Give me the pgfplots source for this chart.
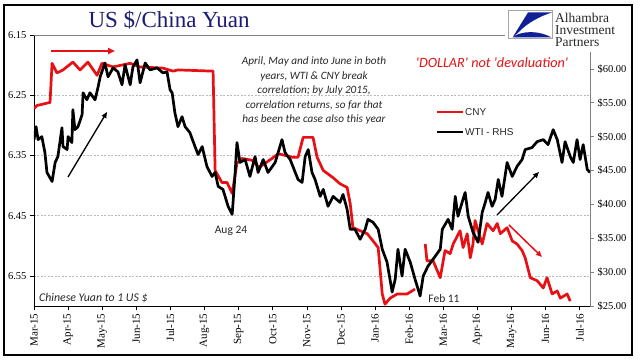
\documentclass[border=0pt]{standalone}
\usepackage{pgfplots}
\pgfplotsset{compat=1.18}
\usepackage{fontspec}
\setmainfont{Liberation Serif}
\newfontfamily\calibri{Carlito}
\newfontfamily\arial{Liberation Sans}
\usetikzlibrary{arrows.meta}
\definecolor{cnyred}{RGB}{232,16,20}
\definecolor{titleblue}{RGB}{28,28,120}
\definecolor{logoblue}{RGB}{16,32,150}
\definecolor{txtgray}{RGB}{40,40,40}

\pgfplotstableread{
x y
0.00 6.272
0.09 6.267
0.47 6.262
0.53 6.197
0.67 6.213
0.85 6.208
1.14 6.195
1.35 6.208
1.58 6.195
1.85 6.217
1.99 6.197
2.32 6.203
2.82 6.197
3.11 6.203
3.78 6.205
4.08 6.210
4.22 6.208
5.25 6.210
5.31 6.375
5.51 6.395
5.66 6.395
5.81 6.413
5.95 6.363
6.10 6.355
6.39 6.358
6.60 6.370
6.77 6.363
6.98 6.355
7.16 6.347
7.36 6.350
7.57 6.353
7.74 6.353
7.89 6.320
8.18 6.320
8.30 6.353
8.48 6.375
8.77 6.387
8.97 6.397
9.18 6.403
9.27 6.430
9.35 6.470
9.77 6.480
9.94 6.492
10.09 6.503
10.21 6.580
10.29 6.597
10.44 6.587
10.65 6.580
10.94 6.580
11.17 6.572
}\cnyA

\pgfplotstableread{
x y
11.47 6.497
11.52 6.525
11.70 6.525
11.91 6.553
12.05 6.508
12.20 6.513
12.29 6.497
12.49 6.475
12.58 6.503
12.70 6.480
12.79 6.520
12.87 6.497
12.93 6.458
13.02 6.475
13.14 6.497
13.28 6.463
13.46 6.475
13.58 6.463
13.67 6.480
13.87 6.470
14.02 6.492
14.16 6.497
14.31 6.508
14.40 6.520
14.55 6.553
14.75 6.558
14.93 6.570
15.04 6.553
15.19 6.580
15.34 6.575
15.43 6.587
15.63 6.580
15.72 6.592
}\cnyB

\pgfplotstableread{
x y
0.00 49.56
0.06 51.47
0.12 49.56
0.23 50.00
0.32 47.65
0.38 44.71
0.53 43.38
0.62 46.18
0.70 47.06
0.82 51.32
0.85 48.53
0.97 48.09
1.00 50.00
1.11 49.12
1.14 53.97
1.20 51.03
1.29 51.47
1.41 53.24
1.44 56.47
1.55 55.44
1.64 56.47
1.79 55.44
1.88 57.35
1.94 58.82
2.08 60.88
2.17 58.82
2.32 60.15
2.46 59.56
2.58 57.65
2.67 60.59
2.82 57.65
2.90 60.29
3.02 61.32
3.11 57.94
3.26 60.88
3.40 59.85
3.61 60.15
3.78 59.41
3.90 59.56
3.99 56.91
4.05 56.47
4.13 53.53
4.22 51.47
4.34 52.94
4.43 51.47
4.57 50.59
4.72 48.53
4.81 47.35
4.93 48.53
5.07 45.59
5.22 44.12
5.31 44.71
5.40 42.65
5.54 42.21
5.69 39.71
5.81 38.53
5.89 44.12
5.95 49.12
6.04 46.18
6.19 46.62
6.33 44.12
6.48 47.06
6.57 44.71
6.72 46.62
6.86 44.71
7.07 46.18
7.27 49.56
7.36 47.65
7.51 46.62
7.74 43.68
7.86 43.24
7.95 47.06
8.04 48.09
8.15 44.71
8.24 43.68
8.39 41.18
8.48 42.21
8.62 39.71
8.77 41.18
8.97 40.29
9.06 41.47
9.18 39.26
9.27 36.32
9.41 36.32
9.56 34.85
9.71 36.32
9.79 37.79
9.94 37.35
10.09 36.32
10.21 33.38
10.35 31.47
10.50 27.06
10.59 28.97
10.67 33.38
10.79 29.41
10.88 33.38
11.03 31.47
11.17 28.97
11.26 27.50
11.32 26.47
11.41 29.41
11.55 30.88
11.70 31.91
11.91 33.38
11.97 36.32
12.14 37.79
12.26 36.32
12.35 41.18
12.43 38.24
12.55 40.29
12.64 41.76
12.73 38.24
12.87 35.88
13.02 34.41
13.14 38.82
13.23 40.29
13.31 41.76
13.43 39.71
13.52 40.74
13.61 43.68
13.72 41.18
13.87 46.18
14.02 44.12
14.16 45.59
14.31 46.62
14.40 48.09
14.60 48.38
14.75 49.26
14.93 49.56
15.07 48.82
15.22 51.03
15.34 49.56
15.48 46.18
15.57 49.26
15.72 47.06
15.81 46.18
15.92 49.56
16.01 46.62
16.10 48.82
16.22 45.15
16.30 44.71
}\wti

\begin{document}
\begin{tikzpicture}
\path[use as bounding box, fill=white] (0,0) rectangle (641pt,361pt);

\pgfplotsset{
 base/.style={scale only axis, width=556pt, height=271pt, at={(34pt,55pt)},
   anchor=south west, xmin=0, xmax=16.3, clip=true},
}

% CNY, left axis (reversed)
\begin{axis}[base, y dir=reverse, ymin=6.15, ymax=6.60,
 axis x line=none, axis y line*=left,
 axis line style={black, line width=0.8pt, -},
 ytick={6.15,6.25,6.35,6.45,6.55}, yticklabels={6.15,6.25,6.35,6.45,6.55},
 y tick label style={font=\fontsize{10.5}{12}\selectfont},
 tick align=outside, major tick length=4pt, tick style={black, line width=0.6pt},
 ymajorgrids, major grid style={gray!55, dash pattern=on 2pt off 1.5pt, line width=0.5pt},
]
\addplot[cnyred, line width=2.7pt, line join=round, no marks] table[x=x,y=y] {\cnyA};
\addplot[cnyred, line width=2.7pt, line join=round, no marks] table[x=x,y=y] {\cnyB};
\end{axis}

% WTI, right axis
\begin{axis}[base, ymin=25, ymax=65,
 axis x line*=bottom, axis y line*=right,
 x axis line style={black, line width=0.8pt, -},
 y axis line style={gray, line width=0.8pt, -},
 xtick={0,...,16},
 xticklabels={Mar-15,Apr-15,May-15,Jun-15,Jul-15,Aug-15,Sep-15,Oct-15,Nov-15,Dec-15,Jan-16,Feb-16,Mar-16,Apr-16,May-16,Jun-16,Jul-16},
 x tick label style={rotate=90, anchor=east, font=\fontsize{11}{12}\selectfont},
 ytick={25,30,35,40,45,50,55,60},
 yticklabels={\$25.00,\$30.00,\$35.00,\$40.00,\$45.00,\$50.00,\$55.00,\$60.00},
 y tick label style={font=\fontsize{10.5}{12}\selectfont},
 tick align=outside, major tick length=4pt,
 x tick style={black, line width=0.6pt}, y tick style={gray, line width=0.6pt},
]
\addplot[black, line width=2.7pt, line join=round, no marks] table[x=x,y=y] {\wti};
\end{axis}

\begin{scope}[shift={(0pt,361pt)}, x=1pt, y=-1pt]
 % frame and top line
 \draw[black, line width=1.4pt] (4,5) rectangle (632,355);
 \draw[gray, line width=0.8pt] (34,35) -- (590,35);
 % logo area
 \fill[white] (505,6) rectangle (631,52);
 \draw[gray!70, line width=0.5pt] (508,10) rectangle (552,38);
 \fill[logoblue] (528,12.5) -- (552,12.5) .. controls (540,16) and (526,24) .. (520,31) -- (512.5,37.5) -- cycle;
 \fill[logoblue] (516,35) .. controls (528,30) and (542,32) .. (551.5,37.5) -- (513,37.5) -- cycle;
 \node[anchor=north west, inner sep=0, align=left, font=\fontsize{13.5}{12}\selectfont, text=txtgray] at (555,13) {Alhambra\\Investment\\Partners};
 % title
 \node[anchor=base, inner sep=0, font=\fontsize{23}{23}\selectfont, text=titleblue] at (169,28) {US \$/China Yuan};
 % annotation
 \foreach \t/\yy in {{April, May and into June in both}/65,{years, WTI \& CNY break}/79.5,{correlation; by July 2015,}/94,{correlation returns, so far that}/108.5,{has been the case also this year}/123}{
   \node[anchor=base, inner sep=0, font=\calibri\itshape\fontsize{11.2}{12}\selectfont, text=txtgray] at (314,\yy) {\t};
 }
 \node[anchor=base, inner sep=0, font=\calibri\itshape\fontsize{14.2}{15}\selectfont, text=cnyred] at (492,68) {'DOLLAR' not 'devaluation'};
 % legend
 \draw[cnyred, line width=2.6pt] (437,112) -- (463,112);
 \node[anchor=west, inner sep=0, font=\arial\fontsize{10}{12}\selectfont, text=txtgray] at (465,112) {CNY};
 \draw[black, line width=2.6pt] (437,132) -- (463,132);
 \node[anchor=west, inner sep=0, font=\arial\fontsize{10}{12}\selectfont, text=txtgray] at (465,132) {WTI - RHS};
 % labels
 \node[anchor=base, inner sep=0, font=\calibri\fontsize{11.5}{12}\selectfont, text=txtgray] at (231,234) {Aug 24};
 \node[anchor=base, inner sep=0, font=\calibri\fontsize{11.5}{12}\selectfont, text=txtgray] at (444,303) {Feb 11};
 \node[anchor=base west, inner sep=0, font=\calibri\itshape\fontsize{11.8}{12}\selectfont, text=txtgray] at (39,302) {Chinese Yuan to 1 US \$};
 % arrows
 \draw[cnyred, line width=1.8pt, -{Triangle[length=7pt,width=6pt]}] (51,51) -- (115,51);
 \draw[black, line width=1.3pt, -{Triangle[length=6pt,width=5pt]}] (68,177) -- (107,112);
 \draw[black, line width=1.3pt, -{Triangle[length=6pt,width=5pt]}] (497,215) -- (539,172);
 \draw[cnyred, line width=1.5pt, -{Triangle[length=6pt,width=5pt]}] (509,225) -- (542,257);
\end{scope}
\end{tikzpicture}
\end{document}
